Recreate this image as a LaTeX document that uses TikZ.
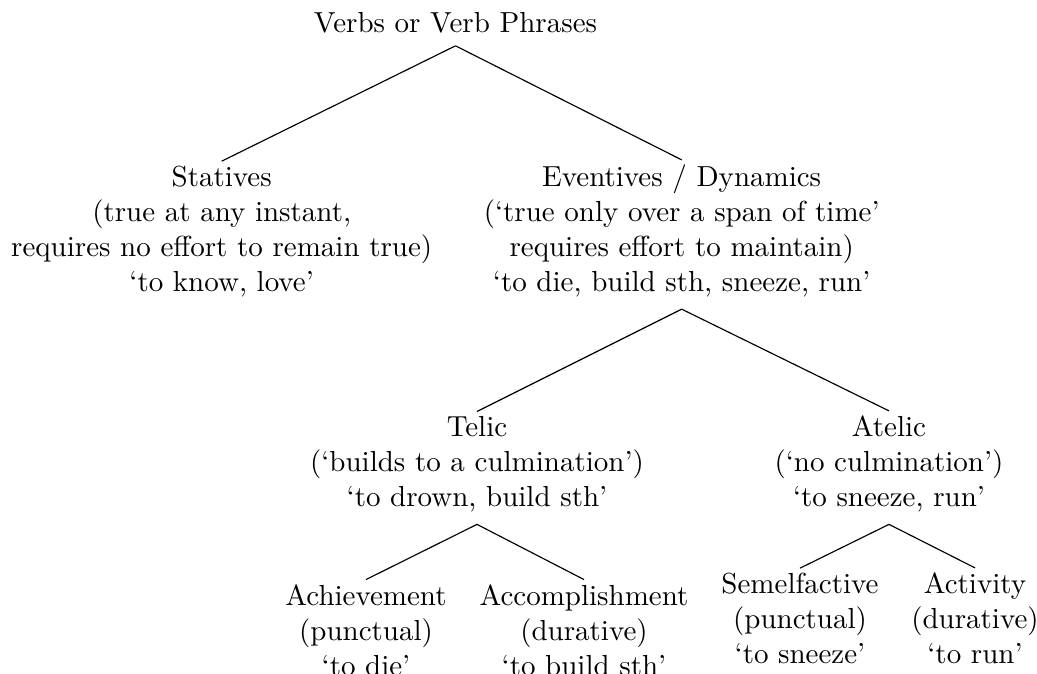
\documentclass[tikz,border=0pt]{standalone}
\newcommand\treeedge[2]{\draw ([yshift=-4.3pt]#1.south) -- ([yshift=1.75pt]#2.north);}
\begin{document}
\begin{tikzpicture}[x=0.34483pt,y=-0.34483pt,
  lbl/.style={align=center, inner sep=0pt, outer sep=0pt, anchor=base}]
\useasboundingbox (0,0) rectangle (1037,674);
% anchor=base is the baseline of the last line
\node[lbl] (root) at (455.5,32.7) {Verbs or Verb Phrases};
\node[lbl] (stat) at (221.7,291.1) {Statives\\(true at any instant,\\requires no effort to remain true)\\`to know, love'};
\node[lbl] (even) at (681.7,291.1) {Eventives / Dynamics\\(`true only over a span of time'\\requires effort to maintain)\\`to die, build sth, sneeze, run'};
\node[lbl] (telic) at (477,506.3) {Telic\\(`builds to a culmination')\\`to drown, build sth'};
\node[lbl] (atelic) at (889,506.3) {Atelic\\(`no culmination')\\`to sneeze, run'};
\node[lbl] (ach) at (366,675) {Achievement\\(punctual)\\`to die'};
\node[lbl] (acc) at (584,675) {Accomplishment\\(durative)\\`to build sth'};
\node[lbl] (sem) at (800,663.3) {Semelfactive\\(punctual)\\`to sneeze'};
\node[lbl] (act) at (975,663.3) {Activity\\(durative)\\`to run'};
\treeedge{root}{stat}
\treeedge{root}{even}
\treeedge{even}{telic}
\treeedge{even}{atelic}
\treeedge{telic}{ach}
\treeedge{telic}{acc}
\treeedge{atelic}{sem}
\treeedge{atelic}{act}
\end{tikzpicture}
\end{document}
